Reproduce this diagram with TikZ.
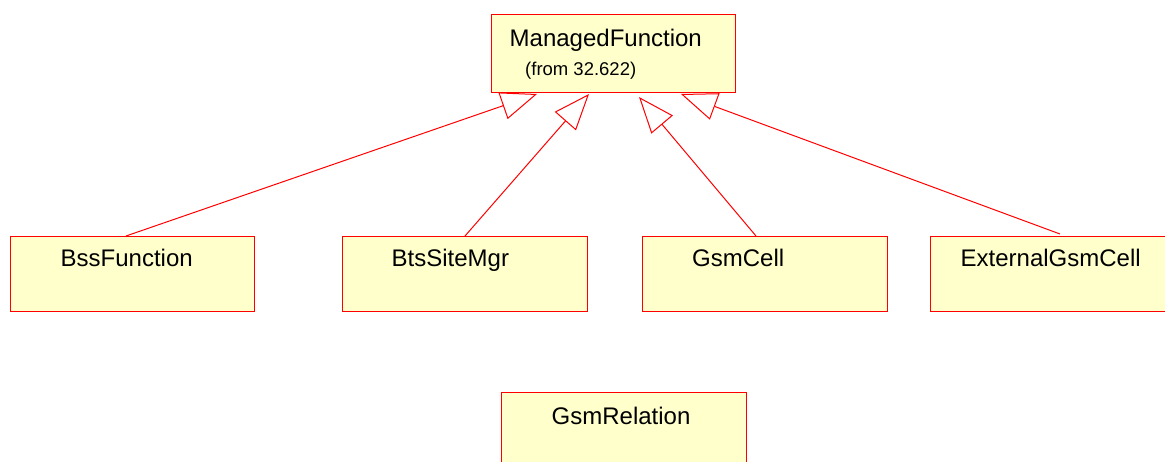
\documentclass[tikz,border=0pt]{standalone}
\usepackage{fontspec}
\setmainfont{Liberation Sans}
\usetikzlibrary{arrows.meta,calc}
\definecolor{boxfill}{RGB}{255,255,204}
\definecolor{umlred}{RGB}{255,0,0}
\tikzset{
  classbox/.style={draw=umlred, fill=boxfill, line width=1pt, anchor=north west, inner sep=0pt},
  classname/.style={anchor=base west, inner sep=0pt, font=\fontsize{24}{28}\selectfont},
  fromlbl/.style={anchor=base west, inner sep=0pt, font=\fontsize{18.5}{22}\selectfont},
  gen/.style={draw=umlred, line width=1pt, -{Triangle[open, length=36pt, width=28pt, fill=white]}},
}
\begin{document}
\begin{tikzpicture}[x=1pt, y=-1pt]
\clip (0,0) rectangle (1165,462);
\fill[white] (0,0) rectangle (1165,462);
% boxes
\node[classbox, minimum width=244pt, minimum height=78pt] (mf) at (491,14) {};
\node[classname] (mft) at (509.5,46.5) {ManagedFunction};
\node[fromlbl] (mff) at (525,76) {(from 32.622)};

\node[classbox, minimum width=244pt, minimum height=75pt] (bss) at (10,236) {};
\node[classname] (bsst) at (60.5,267) {BssFunction};

\node[classbox, minimum width=245pt, minimum height=75pt] (bts) at (342,236) {};
\node[classname] (btst) at (391.5,267) {BtsSiteMgr};

\node[classbox, minimum width=245pt, minimum height=75pt] (gsm) at (642,236) {};
\node[classname] (gsmt) at (692,267) {GsmCell};

\node[classbox, minimum width=250pt, minimum height=75pt] (ext) at (930,236) {};
\node[classname] (extt) at (960.5,267) {ExternalGsmCell};

\node[classbox, minimum width=245pt, minimum height=85pt] (rel) at (501,392) {};
\node[classname] (relt) at (551.5,424) {GsmRelation};

% generalizations
\coordinate (t1) at ($(mf.south west)+(46,1)$);
\coordinate (t2) at ($(mf.south west)+(98,1)$);
\coordinate (t3) at ($(mf.south west)+(148,4)$);
\coordinate (t4) at ($(mf.south west)+(190,1)$);
\draw[gen] ($(bss.north west)+(116,0)$) -- (t1);
\draw[gen] ($(bts.north west)+(123,0)$) -- (t2);
\draw[gen] ($(gsm.north west)+(114,0)$) -- (t3);
\draw[gen] ($(ext.north west)+(130,-2)$) -- (t4);
\end{tikzpicture}
\end{document}
